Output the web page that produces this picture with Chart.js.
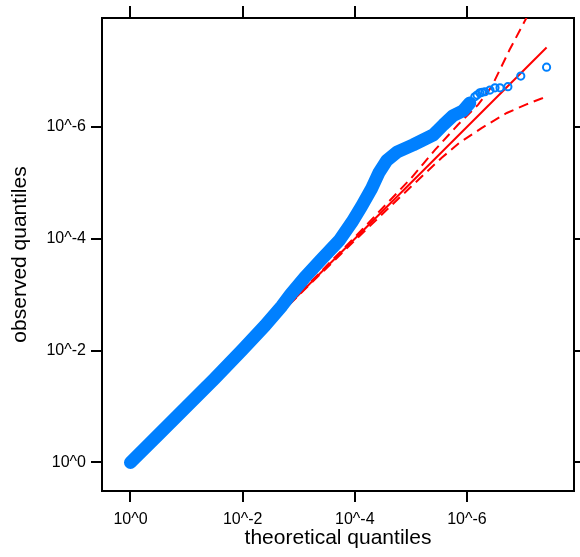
<!DOCTYPE html>
<html>
<head>
<meta charset="utf-8">
<script src="https://cdn.jsdelivr.net/npm/chart.js@4"></script>
<style>
  html, body { margin: 0; padding: 0; background: #fff; }
</style>
</head>
<body>
<canvas id="qqChart" width="580" height="557"></canvas>
<script>
// tick positions on the -log10 scale and their labels
const tickValues = [0, 2, 4, 6];
const tickLabels = ['10^0', '10^-2', '10^-4', '10^-6'];

// dense run of observed quantiles (drawn as a thick band)
const denseX = [0, 0.5, 1, 1.5, 2, 2.4, 2.7, 2.85, 3.1, 3.4, 3.73, 3.95, 4.12, 4.3, 4.43, 4.57, 4.75, 5.04, 5.4, 5.58, 5.75, 5.93, 6.05];
const denseY = [0, 0.5, 1, 1.5, 2.02, 2.45, 2.8, 3.0, 3.3, 3.63, 3.98, 4.3, 4.58, 4.9, 5.18, 5.4, 5.55, 5.68, 5.86, 6.04, 6.2, 6.29, 6.43];

// sparse tail of observed quantiles (open circles)
const tailX = [6.14, 6.18, 6.23, 6.27, 6.32, 6.41, 6.5, 6.59, 6.73, 6.96, 7.42];
const tailY = [6.54, 6.57, 6.61, 6.62, 6.63, 6.66, 6.7, 6.7, 6.72, 6.91, 7.07];

// reference line y = x
const refX = [0, 7.42];
const refY = [0, 7.42];

// confidence band
const upperX = [0, 3, 4, 5, 5.43, 5.84, 6.2, 6.44, 6.76, 7.05, 7.42];
const upperY = [0, 3.01, 4.03, 5.08, 5.59, 6.04, 6.4, 6.72, 7.38, 7.93, 8.65];
const lowerX = [0, 3, 4, 5, 5.55, 5.87, 6.26, 6.71, 7.05, 7.33, 7.42];
const lowerY = [0, 2.99, 3.97, 4.93, 5.45, 5.72, 5.98, 6.25, 6.4, 6.51, 6.53];

const toPoints = (xs, ys) => xs.map((x, i) => ({ x: x, y: ys[i] }));

const blue = '#0080ff';
const red = '#ff0000';
const fontFamily = '"Liberation Sans", Arial, Helvetica, sans-serif';

// put ticks exactly at the labelled positions
function fixTicks(scale) {
    scale.ticks = tickValues.map(v => ({ value: v }));
}

function tickGrid(len) {
    return { drawOnChartArea: false, drawTicks: true, tickLength: len, color: '#000', lineWidth: 2 };
}
const axisBorder = { display: true, color: '#000', width: 2 };

const ctx = document.getElementById('qqChart').getContext('2d');

new Chart(ctx, {
    type: 'scatter',
    data: {
        datasets: [
            {
                // tail circles
                data: toPoints(tailX, tailY),
                showLine: false,
                pointRadius: 3.6,
                pointBorderWidth: 2,
                pointBorderColor: blue,
                pointBackgroundColor: 'rgba(0,0,0,0)'
            },
            {
                // dense band of overlapping circles
                data: toPoints(denseX, denseY),
                showLine: true,
                borderColor: blue,
                borderWidth: 13,
                borderCapStyle: 'round',
                borderJoinStyle: 'round',
                pointRadius: 0
            },
            {
                data: toPoints(refX, refY),
                showLine: true,
                borderColor: red,
                borderWidth: 2,
                pointRadius: 0
            },
            {
                data: toPoints(upperX, upperY),
                showLine: true,
                borderColor: red,
                borderWidth: 2,
                borderDash: [10, 6],
                pointRadius: 0
            },
            {
                data: toPoints(lowerX, lowerY),
                showLine: true,
                borderColor: red,
                borderWidth: 2,
                borderDash: [10, 6],
                pointRadius: 0
            }
        ]
    },
    options: {
        responsive: false,
        animation: false,
        devicePixelRatio: 1,
        layout: { padding: 0 },
        plugins: {
            legend: { display: false },
            tooltip: { enabled: false }
        },
        scales: {
            x: {
                type: 'linear', position: 'bottom', min: -0.508, max: 7.909,
                afterBuildTicks: fixTicks,
                afterFit: s => { s.height = 66; },
                grid: tickGrid(11),
                border: axisBorder,
                ticks: {
                    color: '#000', padding: 8, maxRotation: 0, autoSkip: false,
                    font: { family: fontFamily, size: 16 },
                    callback: (v, i) => tickLabels[i]
                },
                title: {
                    display: true, text: 'theoretical quantiles', color: '#000',
                    font: { family: fontFamily, size: 21, lineHeight: 1 },
                    padding: { top: 0, bottom: 8 }
                }
            },
            x2: {
                type: 'linear', position: 'top', min: -0.508, max: 7.909,
                afterBuildTicks: fixTicks,
                afterFit: s => { s.height = 18; },
                grid: tickGrid(12),
                border: axisBorder,
                ticks: { display: false }
            },
            y: {
                type: 'linear', position: 'left', min: -0.51, max: 7.949,
                afterBuildTicks: fixTicks,
                afterFit: s => { s.width = 102; },
                grid: tickGrid(11),
                border: axisBorder,
                ticks: {
                    color: '#000', padding: 5, autoSkip: false,
                    font: { family: fontFamily, size: 16 },
                    callback: (v, i) => tickLabels[i]
                },
                title: {
                    display: true, text: 'observed quantiles', color: '#000',
                    font: { family: fontFamily, size: 21, lineHeight: 1 },
                    padding: { top: 10, bottom: 0 }
                }
            },
            y2: {
                type: 'linear', position: 'right', min: -0.51, max: 7.949,
                afterBuildTicks: fixTicks,
                afterFit: s => { s.width = 6; },
                grid: tickGrid(6),
                border: axisBorder,
                ticks: { display: false }
            }
        }
    }
});
</script>
</body>
</html>
